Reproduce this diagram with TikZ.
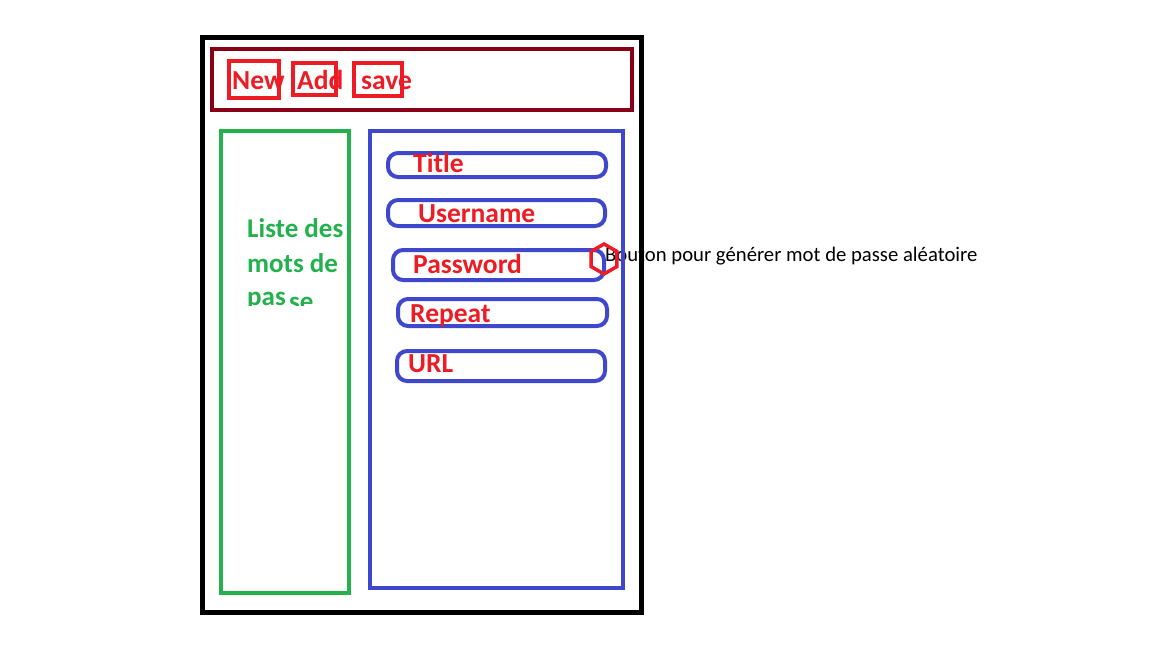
\documentclass[tikz,border=0pt]{standalone}
\usepackage{fontspec}
\setmainfont{Carlito}
\definecolor{pblack}{HTML}{000000}
\definecolor{pdred}{HTML}{880015}
\definecolor{pred}{HTML}{ED1C24}
\definecolor{pgreen}{HTML}{22B14C}
\definecolor{pblue}{HTML}{3F48CC}
\tikzset{
  lbl/.style={anchor=base west, inner sep=0pt, text=pred, font=\fontsize{27.5}{30}\selectfont\bfseries},
  glbl/.style={anchor=base west, inner sep=0pt, text=pgreen, font=\fontsize{27}{30}\selectfont\bfseries},
  fieldbox/.style={draw=pblue, line width=4pt, rounded corners=10pt},
  btnbox/.style={draw=pred, line width=4pt},
  note/.style={anchor=base west, inner sep=0pt, text=black, font=\fontsize{20.7}{22}\selectfont}
}
\begin{document}
\begin{tikzpicture}[x=1pt,y=-1pt]
\useasboundingbox[fill=white] (0,0) rectangle (1152,648);
% annotation text (below borders)
\node[note] (note) at (605,261) {Bouton pour générer mot de passe aléatoire};
% outer frame
\draw[pblack, line width=5pt] (202,37) rectangle (641,612);
% header
\draw[pdred, line width=4pt] (212,49) rectangle (632,110);
% buttons
\draw[btnbox] (229,61) rectangle (279,98);
\draw[btnbox] (293,63) rectangle (336,95);
\draw[btnbox] (354,63) rectangle (402,96);
\node[lbl] (new) at (232,89) {New};
\node[lbl] (add) at (297,89) {Add};
\node[lbl] (save) at (361,89) {save};
% list panel
\draw[pgreen, line width=4pt] (221,131) rectangle (349,593);
\node[glbl] (l1) at (247,237) {Liste des};
\node[glbl] (l2) at (247,272) {mots de};
\begin{scope}
\clip (222,280) rectangle (348,305);
\node[glbl] (l3) at (247,305) {pas};
\node[glbl] (l4) at (289,310) {se};
\end{scope}
% form panel
\draw[pblue, line width=4pt] (370,131) rectangle (623,588);
\draw[fieldbox] (388,153) rectangle (606,177);
\draw[fieldbox] (388,200) rectangle (605,226);
\draw[fieldbox] (393,250) rectangle (604,280);
\draw[fieldbox] (398,299) rectangle (607,326);
\draw[fieldbox] (397,351) rectangle (605,381);
\node[lbl] (title) at (413,172) {Title};
\node[lbl] (user) at (418,222) {Username};
\node[lbl] (pass) at (413,273) {Password};
\node[lbl] (rep) at (410,322) {Repeat};
\node[lbl] (url) at (408,372) {URL};
% hexagon button
\draw[pred, line width=3.5pt] (604,259) +(90:15) -- +(150:15) -- +(210:15) -- +(270:15) -- +(330:15) -- +(30:15) -- cycle;
\end{tikzpicture}
\end{document}
